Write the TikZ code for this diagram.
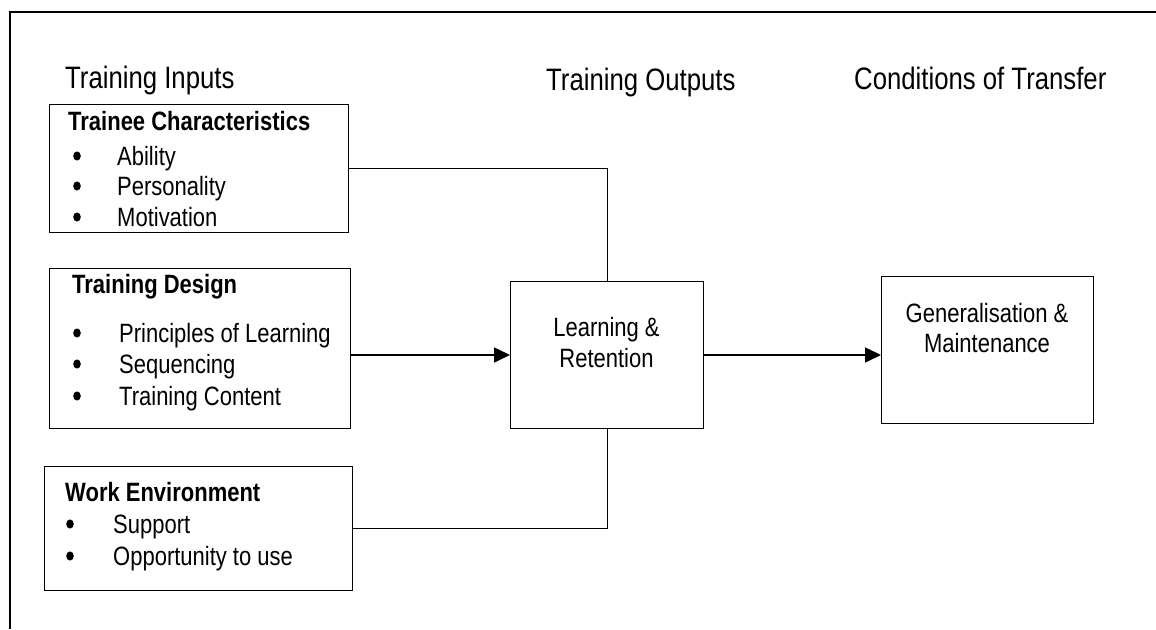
\documentclass[tikz,border=0pt]{standalone}
\usepackage{fontspec}
\setmainfont{Liberation Sans}[FakeStretch=0.83]
\usetikzlibrary{arrows.meta}
\begin{document}
\begin{tikzpicture}[x=1pt, y=-1pt,
  box/.style={draw, line width=1pt, anchor=north west, inner sep=0pt},
  head/.style={anchor=base west, inner sep=0pt, font=\fontsize{31}{36}\selectfont},
  txt/.style={anchor=base west, inner sep=0pt, font=\fontsize{26.5}{30}\selectfont},
  ttl/.style={txt, font=\fontsize{26.5}{30}\selectfont\bfseries},
  ctr/.style={txt, anchor=base},
  dot/.style={x radius=3.8pt, y radius=4.6pt},
  link/.style={line width=1pt},
  arr/.style={line width=1.6pt, -{Triangle[length=16pt, width=15pt]}}]
\useasboundingbox (0,0) rectangle (1156,629);
\draw[line width=1.5pt] (10,629) -- (10,12) -- (1156,12);
\node[head] (H_0) at (65,88) {Training Inputs};
\node[head] (H_1) at (546,90) {Training Outputs};
\node[head] (H_2) at (854,89) {Conditions of Transfer};
\node[box, minimum width=299pt, minimum height=128pt] (B_0_0) at (49,104) {};
\node[ttl] (T_0_0) at (68,130) {Trainee Characteristics};
\foreach \y/\t in {165/Ability, 195/Personality, 226/Motivation} {
  \fill (77,{\y-9}) ellipse[dot];
  \node[txt] (I_0_0_\y) at (117,\y) {\t};
}
\node[box, minimum width=301pt, minimum height=160pt] (B_0_1) at (49,268) {};
\node[ttl] (T_0_1) at (72,293) {Training Design};
\foreach \y/\t in {342/Principles of Learning, 373/Sequencing, 405/Training Content} {
  \fill (77,{\y-9}) ellipse[dot];
  \node[txt] (I_0_1_\y) at (119,\y) {\t};
}
\node[box, minimum width=308pt, minimum height=124pt] (B_0_2) at (44,466) {};
\node[ttl] (T_0_2) at (65,501) {Work Environment};
\foreach \y/\t in {533/Support, 565/Opportunity to use} {
  \fill (70,{\y-9}) ellipse[dot];
  \node[txt] (I_0_2_\y) at (113,\y) {\t};
}
\node[box, minimum width=193pt, minimum height=147pt] (B_1_0) at (510,281) {};
\node[ctr] (T_1_0a) at (606.5,336) {Learning \&};
\node[ctr] (T_1_0b) at (606.5,367) {Retention};
\node[box, minimum width=212pt, minimum height=147pt] (B_2_0) at (881,276) {};
\node[ctr] (T_2_0a) at (987,322) {Generalisation \&};
\node[ctr] (T_2_0b) at (987,352) {Maintenance};
\draw[link] (B_0_0.east) -| (B_1_0.north);
\draw[arr] (B_0_1.east |- B_1_0.west) -- (B_1_0.west);
\draw[link] (B_0_2.east) -| (B_1_0.south);
\draw[arr] (B_1_0.east) -- (B_1_0.east -| B_2_0.west);
\end{tikzpicture}
\end{document}
